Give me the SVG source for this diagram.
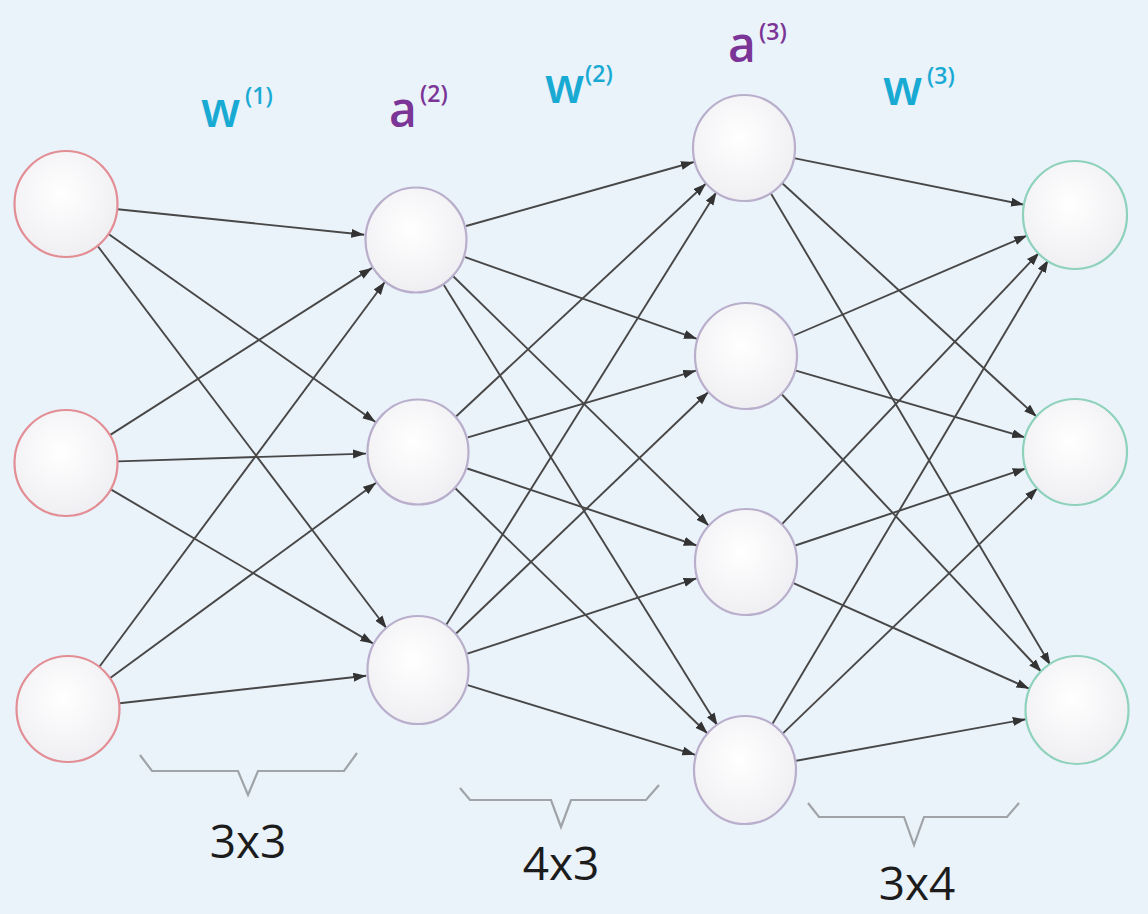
<svg xmlns="http://www.w3.org/2000/svg" width="1148" height="914" viewBox="0 0 1148 914">
<style>
.bg{fill:#EAF2FA}
.n{stroke-width:2.2}
.in{stroke:#E28E94}
.hid{stroke:#B9AECB}
.out{stroke:#8ED2BC}
.e{stroke:#474747;stroke-width:1.9;fill:none;marker-end:url(#ah)}
.br{stroke:#A0A4A8;stroke-width:2.2;fill:none;stroke-linejoin:miter}
.dim{font-family:"Open Sans","Liberation Sans",sans-serif;font-size:46px;fill:#1c1c1c;text-anchor:middle}
.w{font-family:"Open Sans","Liberation Sans",sans-serif;fill:#19AAD4;font-weight:600}
.a{font-family:"Open Sans","Liberation Sans",sans-serif;fill:#7A3596;font-weight:600}
.big{font-size:48px}
.sup{font-size:23px}
</style>
<defs>
<radialGradient id="g" cx="0.45" cy="0.4" r="0.65">
<stop offset="0" stop-color="#FFFFFF"/>
<stop offset="1" stop-color="#EEEEF2"/>
</radialGradient>
<marker id="ah" markerUnits="userSpaceOnUse" markerWidth="14" markerHeight="10" refX="13" refY="4.5" orient="auto">
<path d="M0,0 L13,4.5 L0,9 z" fill="#333"/>
</marker>
</defs>
<rect class="bg" x="0" y="0" width="1148" height="914"/>

<g id="connectors">
<line class="e" x1="117.7" y1="209.3" x2="364.3" y2="234.7"/>
<line class="e" x1="108.5" y1="234.0" x2="375.5" y2="422.0"/>
<line class="e" x1="97.3" y1="245.5" x2="386.7" y2="628.5"/>
<line class="e" x1="109.9" y1="435.1" x2="372.1" y2="267.9"/>
<line class="e" x1="118.0" y1="461.4" x2="366.0" y2="453.6"/>
<line class="e" x1="110.8" y1="489.4" x2="373.2" y2="643.6"/>
<line class="e" x1="99.0" y1="667.2" x2="385.0" y2="281.8"/>
<line class="e" x1="109.9" y1="678.2" x2="376.1" y2="482.8"/>
<line class="e" x1="119.7" y1="703.2" x2="366.3" y2="675.8"/>

<line class="e" x1="466.1" y1="226.0" x2="693.9" y2="162.0"/>
<line class="e" x1="465.1" y1="257.2" x2="696.9" y2="338.8"/>
<line class="e" x1="453.2" y1="276.3" x2="708.8" y2="525.7"/>
<line class="e" x1="443.4" y1="284.2" x2="717.6" y2="725.8"/>
<line class="e" x1="456.0" y1="416.5" x2="706.0" y2="183.5"/>
<line class="e" x1="467.9" y1="437.4" x2="696.1" y2="370.6"/>
<line class="e" x1="467.3" y1="468.5" x2="696.7" y2="545.5"/>
<line class="e" x1="455.3" y1="488.3" x2="707.7" y2="733.7"/>
<line class="e" x1="445.5" y1="625.9" x2="716.5" y2="192.1"/>
<line class="e" x1="455.6" y1="634.0" x2="708.4" y2="392.0"/>
<line class="e" x1="467.4" y1="653.7" x2="696.6" y2="578.3"/>
<line class="e" x1="467.7" y1="685.2" x2="695.3" y2="754.8"/>

<line class="e" x1="794.0" y1="158.1" x2="1024.0" y2="204.7"/>
<line class="e" x1="782.3" y1="183.2" x2="1036.7" y2="416.8"/>
<line class="e" x1="770.5" y1="192.7" x2="1050.5" y2="665.3"/>
<line class="e" x1="793.8" y1="335.5" x2="1027.2" y2="235.5"/>
<line class="e" x1="795.9" y1="370.6" x2="1025.1" y2="437.4"/>
<line class="e" x1="781.5" y1="394.0" x2="1041.5" y2="672.0"/>
<line class="e" x1="781.8" y1="524.3" x2="1039.2" y2="252.7"/>
<line class="e" x1="795.3" y1="545.5" x2="1025.7" y2="468.5"/>
<line class="e" x1="793.5" y1="583.2" x2="1029.5" y2="688.8"/>
<line class="e" x1="771.6" y1="725.3" x2="1048.4" y2="259.7"/>
<line class="e" x1="782.4" y1="733.9" x2="1037.6" y2="488.1"/>
<line class="e" x1="796.2" y1="760.8" x2="1025.8" y2="719.2"/>
</g>

<g id="in1"><ellipse class="n in" cx="66" cy="204" rx="51.5" ry="53" fill="url(#g)"/></g>
<g id="in2"><ellipse class="n in" cx="66" cy="463" rx="51.5" ry="53" fill="url(#g)"/></g>
<g id="in3"><ellipse class="n in" cx="68" cy="709" rx="51.5" ry="53" fill="url(#g)"/></g>

<g id="h1_1"><ellipse class="n hid" cx="416" cy="240" rx="50.5" ry="52.5" fill="url(#g)"/></g>
<g id="h1_2"><ellipse class="n hid" cx="418" cy="452" rx="50.5" ry="52.5" fill="url(#g)"/></g>
<g id="h1_3"><ellipse class="n hid" cx="418" cy="670" rx="50.5" ry="54" fill="url(#g)"/></g>

<g id="h2_1"><ellipse class="n hid" cx="744" cy="148" rx="51" ry="53" fill="url(#g)"/></g>
<g id="h2_2"><ellipse class="n hid" cx="746" cy="356" rx="51" ry="53" fill="url(#g)"/></g>
<g id="h2_3"><ellipse class="n hid" cx="746" cy="562" rx="51" ry="53" fill="url(#g)"/></g>
<g id="h2_4"><ellipse class="n hid" cx="745" cy="770" rx="51" ry="54" fill="url(#g)"/></g>

<g id="out1"><ellipse class="n out" cx="1075" cy="215" rx="52" ry="54" fill="url(#g)"/></g>
<g id="out2"><ellipse class="n out" cx="1075" cy="452" rx="52" ry="53" fill="url(#g)"/></g>
<g id="out3"><ellipse class="n out" cx="1077" cy="710" rx="51.5" ry="54" fill="url(#g)"/></g>

<g id="labels">
<text class="w big" x="201" y="127">w</text><text class="w sup" x="245" y="104">(1)</text>
<text class="a big" x="389" y="127">a</text><text class="a sup" x="420" y="102">(2)</text>
<text class="w big" x="545" y="103">w</text><text class="w sup" x="585" y="82">(2)</text>
<text class="a big" x="728" y="62">a</text><text class="a sup" x="759" y="40">(3)</text>
<text class="w big" x="883" y="105">w</text><text class="w sup" x="927" y="84">(3)</text>
</g>

<g id="brackets">
<path class="br" d="M140,755 L152,771 L238,771 L248,795 L258,771 L344,771 L357,753"/>
<path class="br" d="M460,788 L470,800 L551,800 L561,827 L571,800 L646,800 L659,785"/>
<path class="br" d="M808,803 L819,817 L904,817 L914,845 L924,817 L1007,817 L1019,803"/>
<text class="dim" x="248" y="858">3x3</text>
<text class="dim" x="561" y="880">4x3</text>
<text class="dim" x="917" y="900">3x4</text>
</g>
</svg>
